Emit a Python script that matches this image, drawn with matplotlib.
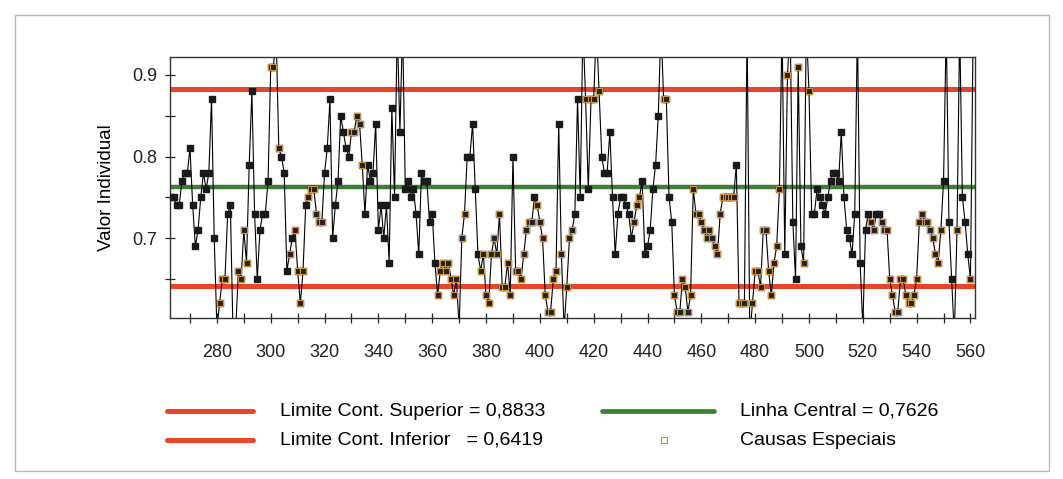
import matplotlib
matplotlib.use("Agg")
import matplotlib.pyplot as plt
from matplotlib.lines import Line2D
from matplotlib.patches import Rectangle
import numpy as np

plt.rcParams['font.family'] = ['Liberation Sans', 'DejaVu Sans']

# individual values, observation 263 onwards (values off-scale are clipped by the axes)
vals_a = [0.75, 0.75, 0.74, 0.74, 0.77, 0.78, 0.78, 0.81, 0.74, 0.69,
          0.71, 0.75, 0.78, 0.76, 0.78, 0.87, 0.70, 0.59, 0.62, 0.65,
          0.65, 0.73, 0.74, 0.58, 0.59, 0.66, 0.65, 0.71, 0.67, 0.79,
          0.88, 0.73, 0.65, 0.71, 0.73, 0.73, 0.77]
vals_b = [0.91, 0.91, 0.95, 0.81, 0.80, 0.78, 0.66, 0.68, 0.70, 0.71,
          0.66, 0.62, 0.66, 0.74, 0.75, 0.76, 0.76, 0.73, 0.72, 0.72,
          0.78, 0.81, 0.87, 0.70, 0.74, 0.77, 0.85, 0.83, 0.81, 0.80,
          0.83, 0.83, 0.85, 0.84, 0.79, 0.73, 0.79, 0.77, 0.78, 0.84]
vals_c = [0.71, 0.74, 0.70, 0.74, 0.67, 0.86, 0.75, 0.96, 0.83, 0.96,
          0.76, 0.77, 0.75, 0.76, 0.73, 0.68, 0.78, 0.77, 0.77, 0.72,
          0.73, 0.67, 0.63, 0.66, 0.67, 0.66, 0.67, 0.65, 0.63, 0.65,
          0.59, 0.70, 0.73, 0.80, 0.80, 0.84, 0.76, 0.68, 0.66, 0.68]
vals_d = [0.63, 0.62, 0.68, 0.70, 0.68, 0.73, 0.64, 0.64, 0.67, 0.63,
          0.80, 0.66, 0.66, 0.65, 0.68, 0.71, 0.72, 0.72, 0.75, 0.74,
          0.72, 0.70, 0.63, 0.61, 0.61, 0.65, 0.66, 0.84, 0.68, 0.59,
          0.64, 0.70, 0.71, 0.73, 0.87, 0.75, 0.96, 0.87, 0.76, 0.87]
vals_e = [0.87, 0.96, 0.88, 0.80, 0.78, 0.78, 0.83, 0.75, 0.68, 0.73,
          0.75, 0.75, 0.74, 0.73, 0.70, 0.72, 0.74, 0.75, 0.77, 0.68,
          0.69, 0.71, 0.76, 0.79, 0.85, 0.96, 0.87, 0.87, 0.75, 0.72,
          0.63, 0.61, 0.61, 0.65, 0.64, 0.61, 0.63, 0.76, 0.73, 0.73]
vals_f = [0.72, 0.71, 0.70, 0.71, 0.70, 0.69, 0.68, 0.73, 0.75, 0.75,
          0.75, 0.75, 0.75, 0.79, 0.62, 0.62, 0.62, 0.96, 0.58, 0.62,
          0.66, 0.66, 0.64, 0.71, 0.71, 0.66, 0.63, 0.67, 0.69, 0.76,
          0.96, 0.68, 0.90, 0.96, 0.72, 0.65, 0.91, 0.69, 0.67, 0.96]
vals_g = [0.88, 0.73, 0.73, 0.76, 0.75, 0.74, 0.73, 0.75, 0.77, 0.78,
          0.78, 0.77, 0.83, 0.75, 0.71, 0.70, 0.68, 0.73, 0.96, 0.67,
          0.59, 0.71, 0.73, 0.72, 0.71, 0.73, 0.73, 0.72, 0.71, 0.71,
          0.65, 0.63, 0.61, 0.61, 0.65, 0.65, 0.63, 0.62, 0.62, 0.63]
vals_h = [0.65, 0.72, 0.73, 0.72, 0.72, 0.71, 0.70, 0.68, 0.67, 0.71,
          0.77, 0.96, 0.72, 0.65, 0.58, 0.71, 0.96, 0.75, 0.72, 0.68,
          0.65, 0.96]

first_obs = 263
ucl = 0.8833
cl = 0.7626
lcl = 0.6419

leg_ucl = "Limite Cont. Superior = 0,8833"
leg_lcl = "Limite Cont. Inferior   = 0,6419"
leg_cl = "Linha Central = 0,7626"
leg_sc = "Causas Especiais"

y = np.array(vals_a + vals_b + vals_c + vals_d + vals_e + vals_f + vals_g + vals_h)
x = np.arange(first_obs, first_obs + len(y))


def special_causes(v, cl, ucl):
    # usual tests for an individuals chart
    s = (ucl - cl) / 3.0
    d = (v - cl) / s
    flag = np.abs(d) > 3
    n = len(v)
    for i in range(n):
        # 9 points on the same side of the centre line
        if i >= 8:
            w = d[i - 8:i + 1]
            if np.all(w > 0) or np.all(w < 0):
                flag[i] = True
        # 2 of 3 beyond 2 sigma, same side
        if i >= 2:
            w = d[i - 2:i + 1]
            if (np.sum(w > 2) >= 2 and d[i] > 2) or (np.sum(w < -2) >= 2 and d[i] < -2):
                flag[i] = True
        # 4 of 5 beyond 1 sigma, same side
        if i >= 4:
            w = d[i - 4:i + 1]
            if (np.sum(w > 1) >= 4 and d[i] > 1) or (np.sum(w < -1) >= 4 and d[i] < -1):
                flag[i] = True
    return flag


flags = special_causes(y, cl, ucl)

red = '#e8452c'
green = '#3f7d38'
sc_col = '#c99445'

fig = plt.figure(figsize=(10.63, 4.79), dpi=100)
fig.add_artist(Rectangle((0.014, 0.016), 0.973, 0.953, transform=fig.transFigure,
                         fill=False, edgecolor='#b8b8b8', linewidth=1.0))

ax = fig.add_axes([0.160, 0.336, 0.757, 0.545])
ax.axhline(ucl, color=red, lw=3.6, zorder=1)
ax.axhline(lcl, color=red, lw=3.6, zorder=1)
ax.axhline(cl, color=green, lw=3.2, zorder=1)
ax.plot(x, y, color='black', lw=0.8, zorder=2)
ax.plot(x, y, ls='none', marker='s', ms=4.2, mfc='#1a1a1a', mec='#1a1a1a', zorder=3)
ax.plot(x[flags], y[flags], ls='none', marker='s', ms=4.6, mfc='#2a2018',
        mec=sc_col, mew=0.8, zorder=4)

ax.set_xlim(262.6, 561.6)
ax.set_ylim(0.602, 0.922)
ax.set_xticks(np.arange(280, 561, 20))
ax.set_xticks(np.arange(270, 561, 10), minor=True)
ax.set_yticks([0.7, 0.8, 0.9])
ax.set_yticklabels(['0.7', '0.8', '0.9'])
ax.set_yticks([0.65, 0.75, 0.85], minor=True)
ax.tick_params(which='both', direction='inout', length=7, width=0.9, colors='#222222',
               labelsize=13)
ax.tick_params(axis='x', which='both', pad=15)
ax.tick_params(axis='y', which='both', pad=6)
for sp in ax.spines.values():
    sp.set_color('#333333')
    sp.set_linewidth(1.0)
ax.set_ylabel('Valor Individual', fontsize=13.5, labelpad=12)

# legend under the chart
def leg_line(x0, x1, yy, col, lw):
    fig.add_artist(Line2D([x0, x1], [yy, yy], transform=fig.transFigure,
                          color=col, lw=lw, solid_capstyle='round'))

leg_line(0.157, 0.238, 0.141, red, 3.6)
leg_line(0.157, 0.238, 0.081, red, 3.6)
leg_line(0.566, 0.672, 0.141, green, 3.4)
fig.add_artist(Line2D([0.625], [0.081], transform=fig.transFigure, ls='none',
                      marker='s', ms=4, mfc='none', mec='#e07a70', mew=0.8))
fig.text(0.263, 0.141, leg_ucl, fontsize=14, va='center')
fig.text(0.263, 0.081, leg_lcl, fontsize=14, va='center')
fig.text(0.696, 0.141, leg_cl, fontsize=14, va='center')
fig.text(0.696, 0.081, leg_sc, fontsize=14, va='center')

fig.savefig('out.png', dpi=100)
